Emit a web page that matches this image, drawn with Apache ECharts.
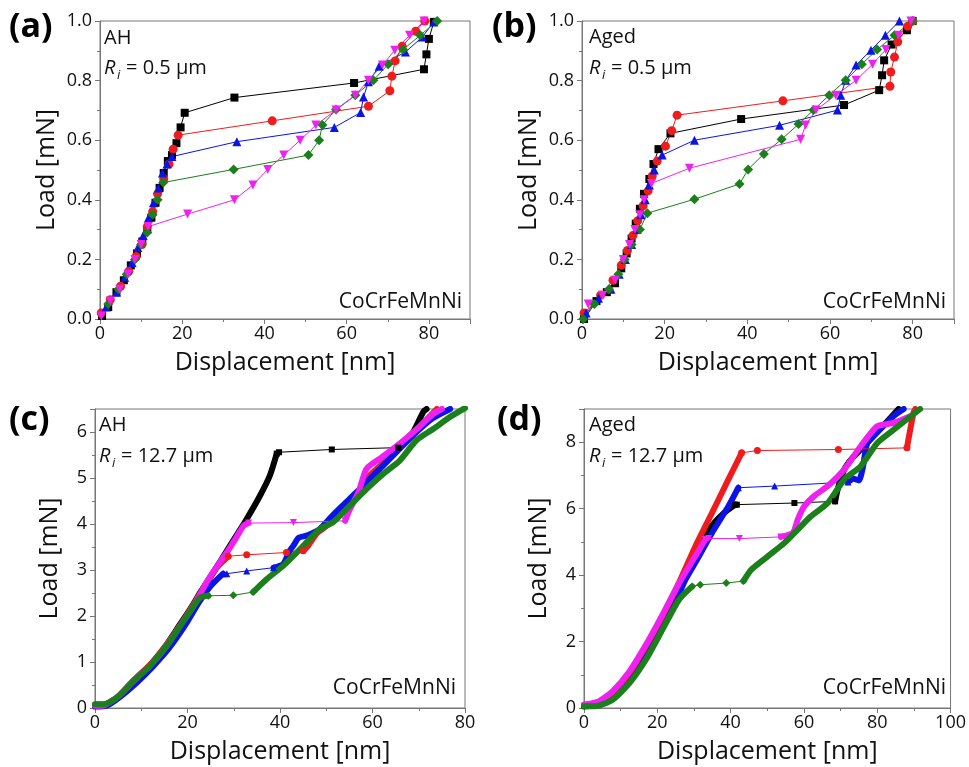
<!DOCTYPE html>
<html>
<head>
<meta charset="utf-8">
<script src="https://cdn.jsdelivr.net/npm/echarts@6/dist/echarts.min.js"></script>
<style>
  html, body { margin: 0; padding: 0; background: #fff; }
  #chart { width: 969px; height: 767px; }
</style>
</head>
<body>
<div id="chart"></div>
<script>
var chart = echarts.init(document.getElementById('chart'));

// panel (a): AH, Ri = 0.5 um   [displacement nm, load mN]
var aBlack = [[0.5,0.01],[2,0.04],[4,0.09],[5.8,0.13],[7.5,0.18],[9,0.22],[10.3,0.26],[11.5,0.3],[12.5,0.34],[13.5,0.39],[14.5,0.44],[15.5,0.49],[16.5,0.53],[17.5,0.55],[18.6,0.59],[19.6,0.643],[20.6,0.692],[32.7,0.743],[61.8,0.792],[78.8,0.838],[79.4,0.888],[80,0.94],[81.2,0.997]];
var aRed = [[0.3,0.02],[2.5,0.065],[5,0.11],[7,0.16],[8.8,0.21],[10.2,0.25],[11.5,0.31],[12.8,0.36],[14,0.42],[15.5,0.47],[16.8,0.52],[17.8,0.57],[19,0.617],[41.9,0.665],[65.3,0.714],[70.5,0.766],[71,0.815],[71.8,0.866],[73.5,0.915],[76.8,0.966],[79,1.0]];
var aBlue = [[1.5,0.04],[4,0.09],[6,0.14],[7.8,0.19],[9.2,0.24],[10.5,0.28],[11.8,0.34],[13,0.39],[14.2,0.44],[15.2,0.49],[16.3,0.52],[17.5,0.545],[33.3,0.595],[57,0.643],[63.4,0.693],[64.1,0.745],[65.3,0.796],[67.9,0.848],[74.3,0.896],[78.4,0.946],[81.2,0.997]];
var aGreen = [[2,0.05],[4.5,0.1],[6.5,0.15],[8.5,0.2],[10,0.25],[11.5,0.29],[12.8,0.35],[14,0.4],[15.4,0.458],[32.5,0.502],[50.7,0.55],[53.3,0.6],[54.1,0.651],[57.4,0.703],[62.1,0.751],[66.5,0.801],[70.1,0.855],[73.7,0.904],[77.9,0.952],[82,1.0]];
var aMagenta = [[0.3,0.01],[2.5,0.06],[4.8,0.1],[6.8,0.15],[8.5,0.2],[10,0.25],[11.7,0.31],[21.3,0.352],[32.7,0.4],[37.2,0.45],[40.8,0.502],[44.7,0.55],[48.7,0.6],[52.5,0.651],[57.4,0.701],[62.1,0.751],[65.3,0.801],[68.7,0.852],[71.7,0.902],[75.3,0.952],[78.8,1.0]];

// panel (b): Aged, Ri = 0.5 um
var bBlack = [[0.5,0.0],[3.5,0.06],[6,0.09],[8,0.12],[9.5,0.17],[10.8,0.22],[12,0.27],[13,0.32],[14,0.37],[15,0.42],[16.3,0.47],[17.3,0.52],[18.5,0.57],[21.4,0.623],[38.5,0.671],[63.4,0.718],[71.9,0.768],[72.6,0.818],[73.1,0.868],[74.9,0.921],[78.6,0.969],[80,1.0]];
var bRed = [[0.5,0.02],[4.5,0.08],[7.5,0.13],[9.5,0.18],[11,0.23],[12.3,0.28],[13.5,0.33],[14.8,0.38],[16,0.43],[17,0.48],[18.2,0.53],[20.2,0.58],[21.7,0.632],[23,0.684],[48.6,0.732],[74.5,0.781],[74.7,0.829],[75.6,0.879],[76.4,0.93],[78.8,0.982],[80,1.0]];
var bBlue = [[1,0.02],[4,0.07],[7,0.1],[9,0.15],[10.5,0.2],[12,0.25],[13.3,0.3],[14.3,0.35],[15.3,0.4],[16.3,0.45],[17.5,0.5],[19.4,0.55],[27.2,0.6],[47.8,0.65],[61.8,0.701],[62.6,0.751],[63.8,0.801],[66.3,0.852],[69.9,0.902],[73.4,0.952],[76.8,1.0]];
var bGreen = [[0.3,0.0],[3,0.05],[6.5,0.1],[8.8,0.15],[10.3,0.2],[12,0.25],[14,0.3],[15.8,0.355],[27.2,0.402],[38.1,0.453],[40.2,0.502],[44,0.554],[48.3,0.603],[52.4,0.654],[56,0.701],[59.8,0.751],[63.8,0.801],[67.7,0.855],[71.4,0.904],[75.6,0.952],[80,1.0]];
var bMagenta = [[1.5,0.05],[5,0.08],[8,0.13],[10,0.2],[11.5,0.25],[12.8,0.3],[14,0.35],[15,0.4],[16.8,0.455],[26,0.506],[52.9,0.603],[54.1,0.651],[56.6,0.701],[61.4,0.751],[66.3,0.801],[70.3,0.855],[73.5,0.904],[76.6,0.952],[79.6,1.0]];

// panel (c): AH, Ri = 12.7 um  (dense loading / pop-in / dense reloading)
var cBlackLoad = [[0,0.07],[1.8,0.07],[4.7,0.22],[8.3,0.58],[11.9,0.93],[15.5,1.38],[18.4,1.82],[20.9,2.2],[23,2.55],[25.6,2.95],[29.2,3.53],[32.8,4.11],[35.7,4.62],[37.8,5.05],[39.3,5.53]];
var cBlackPop = [[39.3,5.53],[39.8,5.56],[51.2,5.62],[65.6,5.66]];
var cBlackRest = [[65.6,5.66],[67,5.8],[68.8,6.0],[71,6.44],[71.7,6.5]];
var cRedLoad = [[0,0.05],[2,0.06],[5,0.25],[8.3,0.6],[12,0.95],[15.5,1.38],[18.5,1.8],[21,2.2],[23.5,2.6],[26.3,3.05],[28.8,3.3]];
var cRedPop = [[28.8,3.3],[32.8,3.33],[41.4,3.38],[45,3.42]];
var cRedRest = [[45,3.42],[45.8,3.49],[48,3.8],[50.1,3.96],[51.5,4.11],[55.1,4.4],[58.7,4.98],[62,5.3],[65.9,5.71],[70,6.1],[73.9,6.5]];
var cBlueLoad = [[0,0.03],[2.5,0.05],[5.5,0.25],[9,0.55],[12.5,0.9],[16,1.3],[19.5,1.8],[22.5,2.3],[25,2.65],[27.7,2.92]];
var cBluePop = [[27.7,2.92],[28.5,2.92],[32.8,2.98],[38.6,3.05]];
var cBlueRest = [[38.6,3.05],[40.7,3.13],[42,3.4],[42.9,3.53],[44,3.7],[45.8,3.75],[48.6,3.89],[51.5,4.2],[55.1,4.55],[58.7,4.9],[62.3,5.27],[66,5.65],[69.5,6.0],[73,6.3],[76.8,6.5]];
var cMagentaLoad = [[0,0.05],[2,0.06],[5,0.25],[8.5,0.6],[12,0.93],[15.5,1.35],[18.8,1.85],[21.5,2.25],[24.1,2.73],[26.5,3.1],[28.5,3.38],[30.5,3.7],[32.1,3.96],[33.2,4.02]];
var cMagentaPop = [[33.2,4.02],[42.9,4.03],[54.1,4.07]];
var cMagentaRest = [[54.1,4.07],[55,4.3],[57,4.7],[58.7,5.2],[62,5.45],[65.9,5.75],[70,6.1],[73.2,6.4],[75,6.5]];
var cGreenLoad = [[0,0.08],[2,0.08],[4.7,0.22],[8.3,0.58],[11.9,0.92],[15.5,1.35],[18.4,1.78],[20.9,2.15],[22.7,2.4],[24.5,2.44]];
var cGreenPop = [[24.5,2.44],[29.9,2.45],[34.2,2.52]];
var cGreenRest = [[34.2,2.52],[37.1,2.8],[40.7,3.09],[44.3,3.45],[48.6,3.89],[51.5,4.04],[55.1,4.4],[58.7,4.76],[62.3,5.09],[65.9,5.38],[69.5,5.82],[73.2,6.07],[76.8,6.33],[80,6.52]];

// panel (d): Aged, Ri = 12.7 um
var dBlackLoad = [[0,0.05],[4.2,0.1],[8,0.4],[12.4,1.0],[17,1.8],[21.5,2.7],[26,3.7],[30.5,4.7],[35,5.5],[38.5,5.9],[41.2,6.12]];
var dBlackPop = [[41.2,6.12],[41.7,6.12],[57.4,6.17],[68.5,6.22]];
var dBlackRest = [[68.5,6.22],[69.2,6.58],[71,7.18],[73,7.5],[75.5,7.78],[80,8.3],[84.5,8.84],[85.8,9.0]];
var dRedLoad = [[0,0.1],[4.2,0.15],[7.8,0.45],[12.4,1.05],[16.9,1.86],[21.4,2.76],[25.9,3.77],[30.4,4.87],[34.9,5.87],[39.4,6.88],[43,7.68]];
var dRedPop = [[43,7.68],[47.3,7.75],[69.4,7.78],[88.1,7.83]];
var dRedRest = [[88.1,7.83],[88.5,8.08],[89.9,8.89],[90.4,9.0]];
var dBlueLoad = [[0,0.05],[4.5,0.1],[8,0.3],[12.5,0.9],[17,1.6],[21.5,2.5],[25,3.2],[27.7,3.87],[31,4.5],[34.9,5.27],[39.4,6.07],[42.1,6.63]];
var dBluePop = [[42.1,6.63],[52,6.68],[72,6.8]];
var dBlueRest = [[72,6.8],[73.5,6.9],[75,6.85],[76,7.2],[77.3,7.98],[80,8.3],[84.5,8.79],[87.2,9.0]];
var dMagentaLoad = [[0,0.1],[4,0.2],[7.8,0.5],[12.4,1.1],[16.9,1.9],[21.4,2.8],[25.9,3.75],[30,4.5],[33.1,5.07]];
var dMagentaPop = [[33.1,5.07],[34,5.1],[42.4,5.1],[53.7,5.15]];
var dMagentaRest = [[53.7,5.15],[57,5.27],[58.3,5.67],[60.1,6.07],[63,6.4],[66.5,6.68],[71,7.18],[75.5,7.88],[80,8.48],[84.5,8.58],[89,8.78]];
var dGreenLoad = [[0,0.05],[3,0.05],[7.8,0.25],[12.4,0.75],[16.9,1.46],[21.4,2.36],[25.9,3.26],[29.5,3.66]];
var dGreenPop = [[29.5,3.66],[31.7,3.71],[38.8,3.76],[43.5,3.82]];
var dGreenRest = [[43.5,3.82],[45.7,4.17],[50.2,4.57],[54.7,4.97],[58.3,5.37],[61.9,5.77],[66.5,6.17],[71,6.88],[75.5,7.28],[80,7.98],[84.5,8.38],[91.7,9.0]];

var FONT = 'Open Sans';
var COL = { k: '#000000', r: '#ee1c1c', b: '#0a14e6', g: '#1b7f1b', m: '#f020f0' };
var SYM = { k: 'rect', r: 'circle', b: 'triangle', g: 'diamond', m: 'triangle' };
var SIZE = { k: 8, r: 9, b: 9, g: 10, m: 9 };

function xAxisFor(i, max, interval) {
    return {
        gridIndex: i, type: 'value', min: 0, max: max, interval: interval,
        name: 'Displacement [nm]', nameLocation: 'middle', nameGap: 31,
        nameTextStyle: { fontSize: 25, color: '#111', fontFamily: FONT },
        axisLine: { lineStyle: { color: '#777' } },
        axisTick: { length: 5, lineStyle: { color: '#777' } },
        minorTick: { show: true, splitNumber: 2, length: 3, lineStyle: { color: '#777' } },
        splitLine: { show: false },
        axisLabel: { fontSize: 18, color: '#111', fontFamily: FONT, margin: 6, showMaxLabel: max % interval === 0 }
    };
}
function yAxisFor(i, max, interval, digits) {
    return {
        gridIndex: i, type: 'value', min: 0, max: max, interval: interval,
        name: 'Load [mN]', nameLocation: 'middle', nameGap: digits ? 41 : 33,
        nameTextStyle: { fontSize: 25, color: '#111', fontFamily: FONT },
        axisLine: { lineStyle: { color: '#777' } },
        axisTick: { length: 5, lineStyle: { color: '#777' } },
        minorTick: { show: true, splitNumber: 2, length: 3, lineStyle: { color: '#777' } },
        splitLine: { show: false },
        axisLabel: {
            fontSize: 18, color: '#111', fontFamily: FONT, margin: 8,
            showMaxLabel: Math.abs(max / interval - Math.round(max / interval)) < 1e-6,
            formatter: function (v) { return v.toFixed(digits); }
        }
    };
}

// sparse curve: thin line with markers
function marked(gi, data, c) {
    return {
        type: 'line', xAxisIndex: gi, yAxisIndex: gi, data: data,
        symbol: SYM[c], symbolSize: SIZE[c], symbolRotate: c === 'm' ? 180 : 0,
        showAllSymbol: true, animation: false,
        itemStyle: { color: COL[c] },
        lineStyle: { color: COL[c], width: 1 }
    };
}
// dense curve: overlapping markers drawn as a thick band
function dense(gi, data, c) {
    return {
        type: 'line', xAxisIndex: gi, yAxisIndex: gi, data: data,
        symbol: 'none', animation: false, smooth: 0.2,
        lineStyle: { color: COL[c], width: 6, cap: 'round', join: 'round' }
    };
}

var series = [];
[['k', aBlack], ['r', aRed], ['b', aBlue], ['g', aGreen], ['m', aMagenta]].forEach(function (s) { series.push(marked(0, s[1], s[0])); });
[['k', bBlack], ['r', bRed], ['b', bBlue], ['g', bGreen], ['m', bMagenta]].forEach(function (s) { series.push(marked(1, s[1], s[0])); });
var cSets = [['k', cBlackLoad, cBlackPop, cBlackRest], ['r', cRedLoad, cRedPop, cRedRest], ['b', cBlueLoad, cBluePop, cBlueRest], ['m', cMagentaLoad, cMagentaPop, cMagentaRest], ['g', cGreenLoad, cGreenPop, cGreenRest]];
var dSets = [['k', dBlackLoad, dBlackPop, dBlackRest], ['b', dBlueLoad, dBluePop, dBlueRest], ['r', dRedLoad, dRedPop, dRedRest], ['m', dMagentaLoad, dMagentaPop, dMagentaRest], ['g', dGreenLoad, dGreenPop, dGreenRest]];
cSets.forEach(function (s) {
    series.push(dense(2, s[1], s[0]));
    series.push(dense(2, s[3], s[0]));
    var p = marked(2, s[2], s[0]); p.symbolSize = SIZE[s[0]] - 2; series.push(p);
});
dSets.forEach(function (s) {
    series.push(dense(3, s[1], s[0]));
    series.push(dense(3, s[3], s[0]));
    var p = marked(3, s[2], s[0]); p.symbolSize = SIZE[s[0]] - 2; series.push(p);
});

function txt(x, y, text, size, extra) {
    var st = { x: x, y: y, text: text, fontSize: size, fontFamily: FONT, fill: '#111', verticalAlign: 'middle', align: 'left' };
    for (var k in extra) st[k] = extra[k];
    return { type: 'text', style: st, z: 100 };
}
function riLabel(x, y, value) {
    return [
        txt(x, y, 'R', 20, { fontStyle: 'italic' }),
        txt(x + 13, y + 7, 'i', 13, { fontStyle: 'italic' }),
        txt(x + 22, y, '= ' + value + ' \u03bcm', 20)
    ];
}

var graphics = [
    txt(9, 27, '(a)', 34, { fontWeight: 'bold', fill: '#000' }),
    txt(492, 27, '(b)', 34, { fontWeight: 'bold', fill: '#000' }),
    txt(9, 420, '(c)', 34, { fontWeight: 'bold', fill: '#000' }),
    txt(497, 420, '(d)', 34, { fontWeight: 'bold', fill: '#000' }),
    txt(104, 38, 'AH', 20),
    txt(589, 37, 'Aged', 20),
    txt(99, 425, 'AH', 20),
    txt(589, 425, 'Aged', 20),
    txt(462, 302, 'CoCrFeMnNi', 21, { align: 'right' }),
    txt(946, 302, 'CoCrFeMnNi', 21, { align: 'right' }),
    txt(456, 688, 'CoCrFeMnNi', 21, { align: 'right' }),
    txt(946, 688, 'CoCrFeMnNi', 21, { align: 'right' })
].concat(riLabel(104, 68, '0.5'), riLabel(589, 68, '0.5'), riLabel(99, 456, '12.7'), riLabel(589, 456, '12.7'));

var option = {
    backgroundColor: '#fff',
    animation: false,
    grid: [
        { left: 100, top: 21, width: 370, height: 298, show: true, borderColor: '#777', borderWidth: 1 },
        { left: 582, top: 21, width: 372, height: 298, show: true, borderColor: '#777', borderWidth: 1 },
        { left: 95, top: 409, width: 370, height: 299, show: true, borderColor: '#777', borderWidth: 1 },
        { left: 584, top: 409, width: 370, height: 299, show: true, borderColor: '#777', borderWidth: 1 }
    ],
    xAxis: [xAxisFor(0, 90, 20), xAxisFor(1, 90, 20), xAxisFor(2, 80, 20), xAxisFor(3, 100, 20)],
    yAxis: [yAxisFor(0, 1.0, 0.2, 1), yAxisFor(1, 1.0, 0.2, 1), yAxisFor(2, 6.5, 1, 0), yAxisFor(3, 9, 2, 0)],
    series: series,
    graphic: graphics
};

chart.setOption(option);
</script>
</body>
</html>
